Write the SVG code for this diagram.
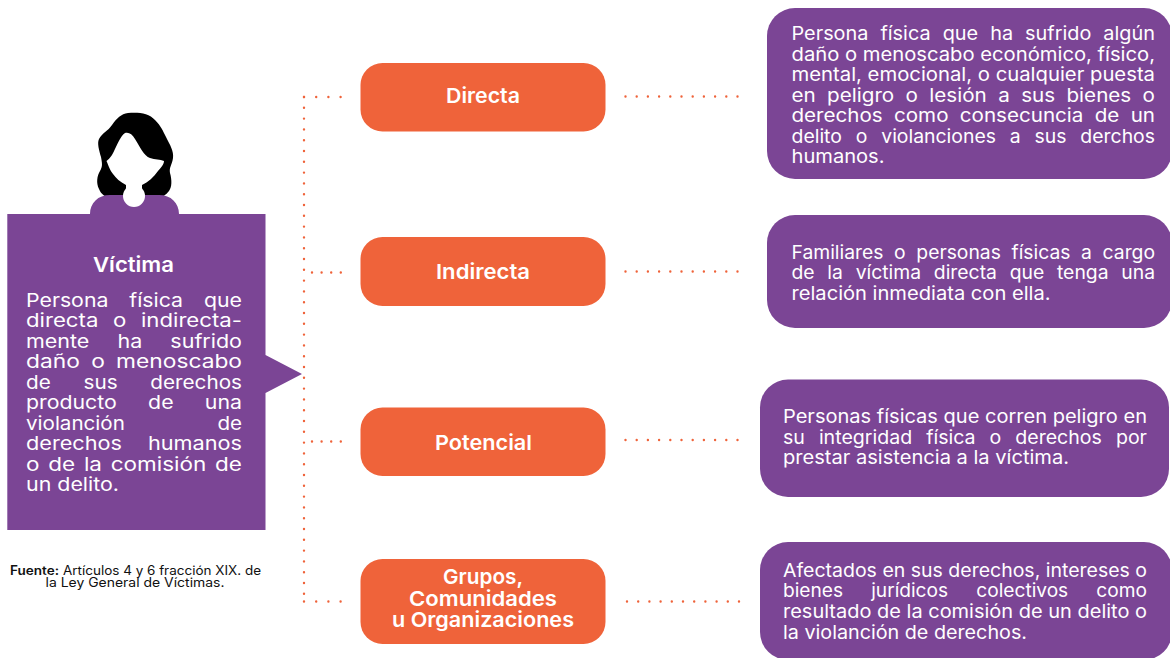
<svg xmlns="http://www.w3.org/2000/svg" width="1170" height="658" viewBox="0 0 1170 658">
<style>
text{font-family:"Inter","Open Sans","Liberation Sans",sans-serif;}
.p{fill:#7B4595}
.o{fill:#EF633A}
.b{font-size:18.5px;fill:#fff;font-weight:400}
.l{font-size:20.5px;fill:#fff;font-weight:600;text-anchor:start}
.s{font-size:12.5px;fill:#111}
.d{fill:none;stroke:#EF633A;stroke-width:2.400;stroke-linecap:round}
.v{stroke-dasharray:0 10.8}
.h1{stroke-dasharray:0 12.2}
.h2{stroke-dasharray:0 9.6}
.r{stroke-dasharray:0 11.2}
</style>
<rect width="1170" height="658" fill="#fff"/>
<g id="connectors">
<path class="d v" d="M304 97V602"/>
<path class="d h1" d="M304 97H342"/>
<path class="d h2" d="M312 272.500H342"/>
<path class="d h2" d="M312 441.500H342"/>
<path class="d h1" d="M304 601.500H342"/>
<path class="d r" d="M625.500 96.500H739"/>
<path class="d r" d="M625.500 271.500H739"/>
<path class="d r" d="M625.500 440H739"/>
<path class="d r" d="M627 601.500H740"/>
</g>
<g id="persona">
<path fill="#000" d="M128 113C138 112 149 113 155 120C161 126 163 131 166 137C170 145 174 151 173 158C172 165 169 167 170 173C172 180 172 187 169 191C166 195 162 197 158 198H110C105 197 101 194 99 189C96 183 97 176 100 171C103 166 102 163 101 157C99 150 97 143 99 139C102 133 108 131 112 125C117 118 121 114 128 113Z"/>
<path fill="#fff" d="M125 133C129 132 132 134 135 139C140 147 144 156 150 158C155 160 160 159 164 161C164 164 161 168 158 171C154 177 148 182 142 185V198H126V185C120 182 116 178 113 174C110 170 109 167 106.500 161C108 160 110 158 112 155C116 148 120 136 125 133Z"/>
</g>
<g id="victima">
<path class="p" d="M7.300 214H90C90 203 98 195 110 195H159C171 195 179 203 179 214H265.500V355L302 374L265.500 393V530H7.300Z"/>
<circle cx="134" cy="196" r="11" fill="#fff"/>
<text class="l" x="93" y="272" textLength="81" lengthAdjust="spacingAndGlyphs">Víctima</text>
<text class="b" x="26" y="306.500" textLength="216" lengthAdjust="spacingAndGlyphs" word-spacing="13">Persona física que</text>
<text class="b" x="26" y="327" textLength="216" lengthAdjust="spacingAndGlyphs" word-spacing="7">directa o indirecta-</text>
<text class="b" x="26" y="347.500" textLength="216" lengthAdjust="spacingAndGlyphs" word-spacing="19">mente ha sufrido</text>
<text class="b" x="26" y="368" textLength="216" lengthAdjust="spacingAndGlyphs" word-spacing="4">daño o menoscabo</text>
<text class="b" x="26" y="388.500" textLength="216" lengthAdjust="spacingAndGlyphs" word-spacing="24">de sus derechos</text>
<text class="b" x="26" y="409" textLength="216" lengthAdjust="spacingAndGlyphs" word-spacing="22">producto de una</text>
<text class="b" x="26" y="429.500" textLength="216" lengthAdjust="spacingAndGlyphs" word-spacing="78">violanción de</text>
<text class="b" x="26" y="450" textLength="216" lengthAdjust="spacingAndGlyphs" word-spacing="17">derechos humanos</text>
<text class="b" x="26" y="470.500" textLength="216" lengthAdjust="spacingAndGlyphs" word-spacing="2">o de la comisión de</text>
<text class="b" x="26" y="491" textLength="93" lengthAdjust="spacingAndGlyphs">un delito.</text>
</g>
<g id="fuente">
<text class="s" x="10" y="575" font-weight="600" textLength="49" lengthAdjust="spacingAndGlyphs">Fuente:</text>
<text class="s" x="63" y="575" textLength="198" lengthAdjust="spacingAndGlyphs">Artículos 4 y 6 fracción XIX. de</text>
<text class="s" x="45.500" y="587" textLength="179" lengthAdjust="spacingAndGlyphs">la Ley General de Víctimas.</text>
</g>
<g id="directa">
<rect class="o" x="360.500" y="63" width="245" height="68.500" rx="22"/>
<text class="l" x="446" y="102.500" textLength="74" lengthAdjust="spacingAndGlyphs">Directa</text>
</g>
<g id="indirecta">
<rect class="o" x="360.500" y="237" width="245" height="69" rx="22"/>
<text class="l" x="436" y="278.500" textLength="94" lengthAdjust="spacingAndGlyphs">Indirecta</text>
</g>
<g id="potencial">
<rect class="o" x="360.500" y="407.500" width="245" height="68.500" rx="22"/>
<text class="l" x="435" y="450" textLength="97" lengthAdjust="spacingAndGlyphs">Potencial</text>
</g>
<g id="grupos">
<rect class="o" x="360.500" y="559" width="245" height="85" rx="22"/>
<text class="l" x="443" y="584" textLength="80" lengthAdjust="spacingAndGlyphs">Grupos,</text>
<text class="l" x="409" y="606" textLength="148" lengthAdjust="spacingAndGlyphs">Comunidades</text>
<text class="l" x="392" y="627" textLength="182" lengthAdjust="spacingAndGlyphs">u Organizaciones</text>
</g>
<g id="def-directa">
<rect class="p" x="767" y="8" width="405" height="171" rx="28"/>
<text class="b" x="791.500" y="40" textLength="363.500" lengthAdjust="spacingAndGlyphs" word-spacing="6">Persona física que ha sufrido algún</text>
<text class="b" x="791.500" y="60.500" textLength="363.500" lengthAdjust="spacingAndGlyphs">daño o menoscabo económico, físico,</text>
<text class="b" x="791.500" y="81" textLength="363.500" lengthAdjust="spacingAndGlyphs">mental, emocional, o cualquier puesta</text>
<text class="b" x="791.500" y="101.500" textLength="363.500" lengthAdjust="spacingAndGlyphs" word-spacing="5">en peligro o lesión a sus bienes o</text>
<text class="b" x="791.500" y="122" textLength="363.500" lengthAdjust="spacingAndGlyphs" word-spacing="5">derechos como consecuncia de un</text>
<text class="b" x="791.500" y="142.500" textLength="363.500" lengthAdjust="spacingAndGlyphs" word-spacing="8">delito o violanciones a sus derchos</text>
<text class="b" x="791.500" y="163" textLength="93" lengthAdjust="spacingAndGlyphs">humanos.</text>
</g>
<g id="def-indirecta">
<rect class="p" x="767" y="215" width="405" height="113" rx="28"/>
<text class="b" x="791.500" y="258.500" textLength="363.500" lengthAdjust="spacingAndGlyphs" word-spacing="5">Familiares o personas físicas a cargo</text>
<text class="b" x="791.500" y="279" textLength="363.500" lengthAdjust="spacingAndGlyphs" word-spacing="7">de la víctima directa que tenga una</text>
<text class="b" x="791.500" y="299.500" textLength="259" lengthAdjust="spacingAndGlyphs">relación inmediata con ella.</text>
</g>
<g id="def-potencial">
<rect class="p" x="760" y="379.500" width="409" height="117.500" rx="28"/>
<text class="b" x="783" y="423" textLength="364" lengthAdjust="spacingAndGlyphs">Personas físicas que corren peligro en</text>
<text class="b" x="783" y="444" textLength="364" lengthAdjust="spacingAndGlyphs" word-spacing="8">su integridad física o derechos por</text>
<text class="b" x="783" y="464" textLength="286" lengthAdjust="spacingAndGlyphs">prestar asistencia a la víctima.</text>
</g>
<g id="def-grupos">
<rect class="p" x="760" y="542" width="412" height="118" rx="28"/>
<text class="b" x="783" y="576.500" textLength="364" lengthAdjust="spacingAndGlyphs">Afectados en sus derechos, intereses o</text>
<text class="b" x="783" y="597" textLength="364" lengthAdjust="spacingAndGlyphs" word-spacing="22">bienes jurídicos colectivos como</text>
<text class="b" x="783" y="618" textLength="364" lengthAdjust="spacingAndGlyphs">resultado de la comisión de un delito o</text>
<text class="b" x="783" y="638.500" textLength="244" lengthAdjust="spacingAndGlyphs">la violanción de derechos.</text>
</g>
</svg>
